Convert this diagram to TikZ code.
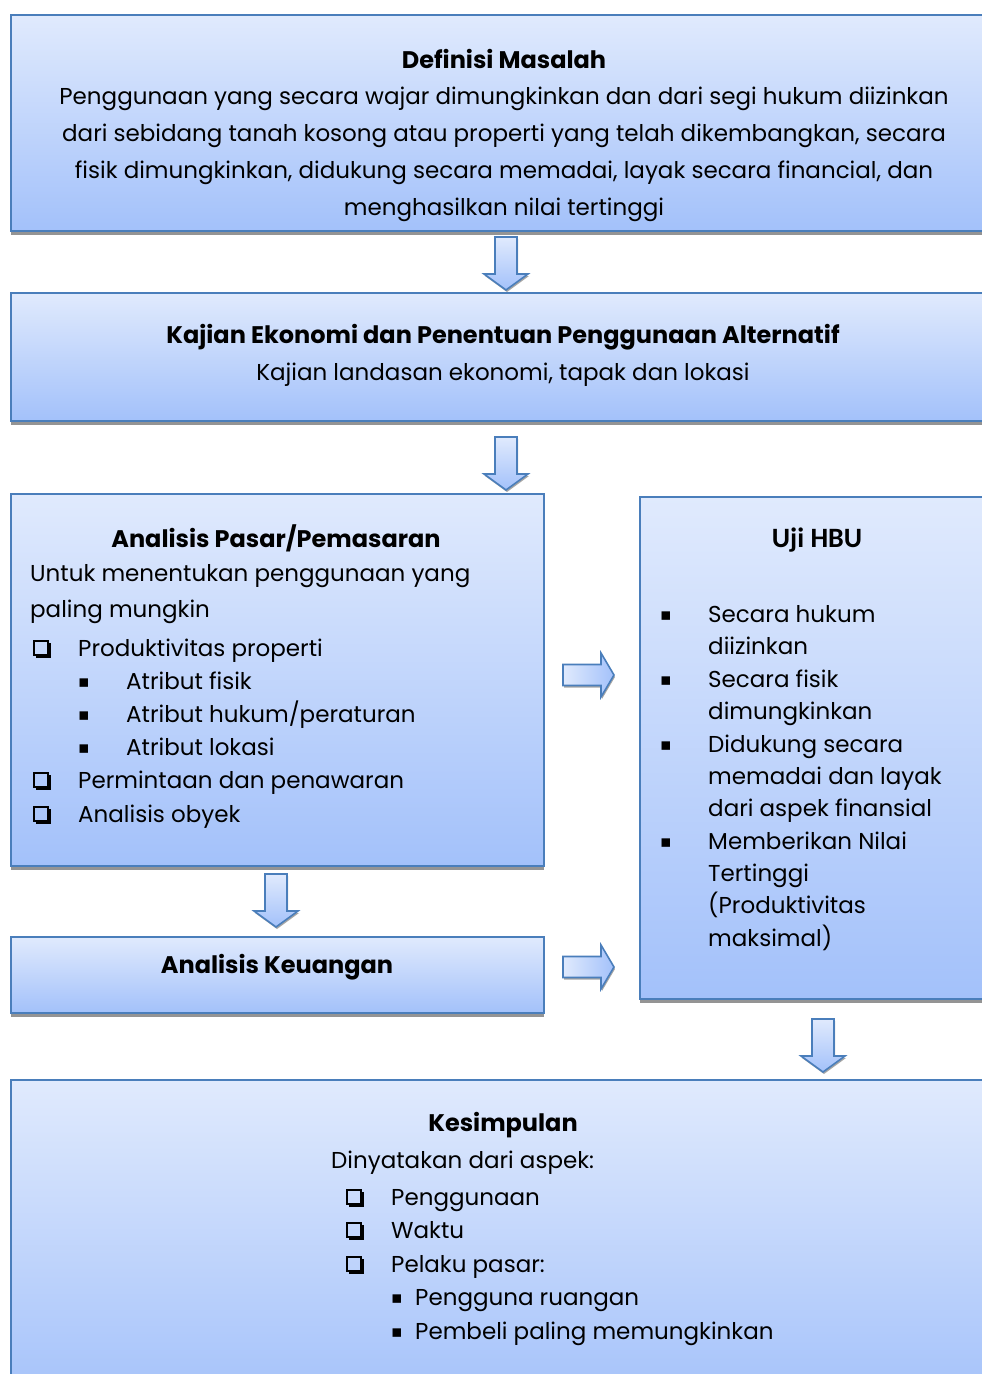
\documentclass[tikz,border=0pt]{standalone}
\usepackage{fontspec}
\setmainfont{Poppins}
\newfontfamily\symfont{DejaVu Sans}
\newfontfamily\calfont{Carlito}
\usetikzlibrary{shadows}

\definecolor{boxtop}{RGB}{224,234,253}
\definecolor{boxbot}{RGB}{163,193,250}
\definecolor{boxline}{RGB}{74,126,187}

\tikzset{stepbox/.style={draw=boxline, line width=1.6pt, top color=boxtop, bottom color=boxbot,
    inner sep=0pt, anchor=north west,
    drop shadow={shadow xshift=0pt, shadow yshift=-4pt, fill=gray!60!black, opacity=.6}}}
\tikzset{head/.style={font=\fontsize{24}{28}\selectfont\bfseries, inner sep=0pt}}
\tikzset{body/.style={font=\fontsize{23}{37}\selectfont, align=center, inner sep=0pt}}
\tikzset{item/.style={font=\fontsize{23}{28}\selectfont, anchor=west, inner sep=0pt, text height=17pt, text depth=5pt}}
\tikzset{chk/.style={draw, line width=1.4pt, minimum size=14pt, inner sep=0pt}}
\tikzset{chkshadow/.style={line width=2.6pt}}
\tikzset{dot/.style={font=\fontsize{17}{20}\symfont, inner sep=0pt}}
\tikzset{arrowline/.style={draw=boxline, line width=1.6pt, line join=miter,
    drop shadow={shadow xshift=1pt, shadow yshift=-2pt, fill=gray!60!black, opacity=.5}}}
\tikzset{
  pics/downarrow/.style={code={
    \draw[arrowline, top color=boxtop, bottom color=boxbot]
      (-11,0) -- (11,0) -- (11,37) -- (22,37) -- (0,53) -- (-22,37) -- (-11,37) -- cycle;}},
  pics/rightarrow/.style={code={
    \draw[arrowline, left color=boxtop, right color=boxbot]
      (0,-10.5) -- (38,-10.5) -- (38,-22) -- (51,0) -- (38,22) -- (38,10.5) -- (0,10.5) -- cycle;}}
}

\begin{document}
\begin{tikzpicture}[x=1pt, y=-1pt]
  \useasboundingbox (0,0) rectangle (982,1374);

  % boxes
  \node[stepbox, minimum width=980pt, minimum height=216pt] (masalah) at (10,14) {};
  \node[stepbox, minimum width=980pt, minimum height=128pt] (kajian) at (10,292) {};
  \node[stepbox, minimum width=533pt, minimum height=372pt] (pasar) at (10,493) {};
  \node[stepbox, minimum width=351pt, minimum height=502pt] (uji) at (639,496) {};
  \node[stepbox, minimum width=533pt, minimum height=76pt] (keuangan) at (10,936) {};
  \node[stepbox, minimum width=980pt, minimum height=330pt] (simpulan) at (10,1079) {};

  % arrows
  \pic (a1) at (506,237) {downarrow};
  \pic (a2) at (506,437) {downarrow};
  \pic (a3) at (276,874) {downarrow};
  \pic (a4) at (823,1019) {downarrow};
  \pic (a5) at (563,675) {rightarrow};
  \pic (a6) at (563,967) {rightarrow};

  % definisi masalah
  \node[head] (masalahjudul) at (504,59) {Definisi Masalah};
  \node[body] (masalahisi) at (504,154) {Penggunaan yang secara wajar dimungkinkan dan dari segi hukum diizinkan\\
    dari sebidang tanah kosong atau properti yang telah dikembangkan, secara\\
    fisik dimungkinkan, didukung secara memadai, layak secara financial, dan\\
    menghasilkan nilai tertinggi};

  % kajian ekonomi
  \node[head] (kajianjudul) at (503,337) {Kajian Ekonomi dan Penentuan Penggunaan Alternatif};
  \node[item, anchor=center] (kajianisi) at (503,374) {Kajian landasan ekonomi, tapak dan lokasi};

  % analisis pasar
  \node[head] (pasarjudul) at (276,538) {Analisis Pasar/Pemasaran};
  \node[item] (pasar1) at (30,575) {Untuk menentukan penggunaan yang};
  \node[item] (pasar2) at (30,611) {paling mungkin};
  \foreach \y/\t [count=\i] in {648/Produktivitas properti, 780/Permintaan dan penawaran, 814/Analisis obyek} {
    \node[chk] (pc\i) at (41,\y) {};
    \draw[chkshadow] ([shift={(3,1.3)}]pc\i.south west) -| ([shift={(1.3,3)}]pc\i.north east);
    \node[item] (pt\i) at (78,\y+2) {\t};
  }
  \foreach \y/\t [count=\i] in {683/Atribut fisik, 716/{Atribut hukum/peraturan}, 749/Atribut lokasi} {
    \node[dot] (pb\i) at (84,\y) {▪};
    \node[item] (ps\i) at (126,\y) {\t};
  }

  % uji hbu
  \node[font=\fontsize{28}{32}\calfont\bfseries, inner sep=0pt] (ujijudul) at (817,540) {Uji HBU};
  \foreach \y in {616,681,746,843}
    \node[dot] (ub\y) at (666,\y) {▪};
  \foreach \y/\t [count=\i] in {616/Secara hukum, 648/diizinkan, 681/Secara fisik, 713/dimungkinkan,
      746/Didukung secara, 778/memadai dan layak, 810/dari aspek finansial, 843/Memberikan Nilai,
      875/Tertinggi, 907/(Produktivitas, 940/maksimal)}
    \node[item] (ut\i) at (708,\y) {\t};

  % analisis keuangan
  \node[head] (keuanganjudul) at (277,967) {Analisis Keuangan};

  % kesimpulan
  \node[head] (simpulanjudul) at (503,1125) {Kesimpulan};
  \node[item] (simpulan1) at (331,1162) {Dinyatakan dari aspek:};
  \foreach \y/\t [count=\i] in {1197/Penggunaan, 1230/Waktu, 1264/Pelaku pasar:} {
    \node[chk] (sc\i) at (354,\y) {};
    \draw[chkshadow] ([shift={(3,1.3)}]sc\i.south west) -| ([shift={(1.3,3)}]sc\i.north east);
    \node[item] (st\i) at (391,\y+2) {\t};
  }
  \foreach \y/\t [count=\i] in {1299/Pengguna ruangan, 1333/Pembeli paling memungkinkan} {
    \node[dot] (sb\i) at (397,\y) {▪};
    \node[item] (ss\i) at (415,\y) {\t};
  }
\end{tikzpicture}
\end{document}
